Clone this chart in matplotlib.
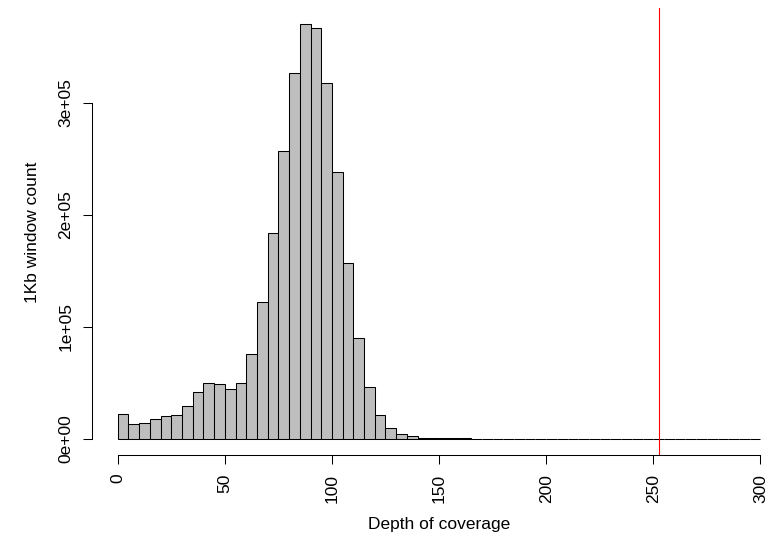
import matplotlib
matplotlib.use('Agg')
import matplotlib.pyplot as plt
import numpy as np

plt.rcParams['font.family'] = ['Liberation Sans', 'DejaVu Sans']

# Histogram of depth of coverage, bins of width 5 from 0 to 300
bin_edges = np.arange(0, 305, 5)
counts = [22300, 13400, 14600, 17600, 20200, 21700, 29500, 42200, 50300, 49400,
          44600, 50000, 75600, 122300, 183600, 256900, 326800, 370200, 367200, 317900,
          238700, 156900, 90400, 46700, 21700, 9800, 4200, 2400, 1200, 800,
          600, 500, 450, 400, 350, 300, 280, 250, 220, 200,
          180, 160, 150, 130, 120, 110, 100, 90, 80, 70,
          65, 60, 55, 50, 45, 40, 35, 30, 25, 20]
cutoff = 252.6
x_ticks = [0, 50, 100, 150, 200, 250, 300]
y_ticks = [0, 1e5, 2e5, 3e5]
y_tick_labels = ['0e+00', '1e+05', '2e+05', '3e+05']

fig = plt.figure(figsize=(7.7, 5.46), dpi=100)
W, H = 770, 546
ax = fig.add_axes([92 / W, (H - 455) / H, (W - 92) / W, 447 / H])

ax.bar(bin_edges[:-1], counts, width=5, align='edge', color='#BEBEBE',
       edgecolor='black', linewidth=0.75)
ax.axvline(cutoff, color='red', linewidth=0.8)

ax.set_xlim(-12, 304.5)
ax.set_ylim(-14286, 384821)

for s in ['top', 'right']:
    ax.spines[s].set_visible(False)
ax.spines['left'].set_bounds(0, 3e5)
ax.spines['bottom'].set_bounds(0, 300)
ax.spines['left'].set_linewidth(0.75)
ax.spines['bottom'].set_linewidth(0.75)

ax.set_xticks(x_ticks)
ax.set_xticklabels([str(t) for t in x_ticks], rotation=90)
ax.set_yticks(y_ticks)
ax.set_yticklabels(y_tick_labels, rotation=90, va='center')
ax.tick_params(axis='both', length=6.5, width=0.75, labelsize=12.5)
ax.tick_params(axis='x', pad=7)
ax.tick_params(axis='y', pad=7)

fig.text(439 / W, 1 - 525 / H, 'Depth of coverage', ha='center', va='center', fontsize=12.5)
fig.text(33 / W, 1 - 232 / H, '1Kb window count', ha='center', va='center',
         rotation=90, fontsize=12.5)

fig.savefig('out.png', dpi=100)
